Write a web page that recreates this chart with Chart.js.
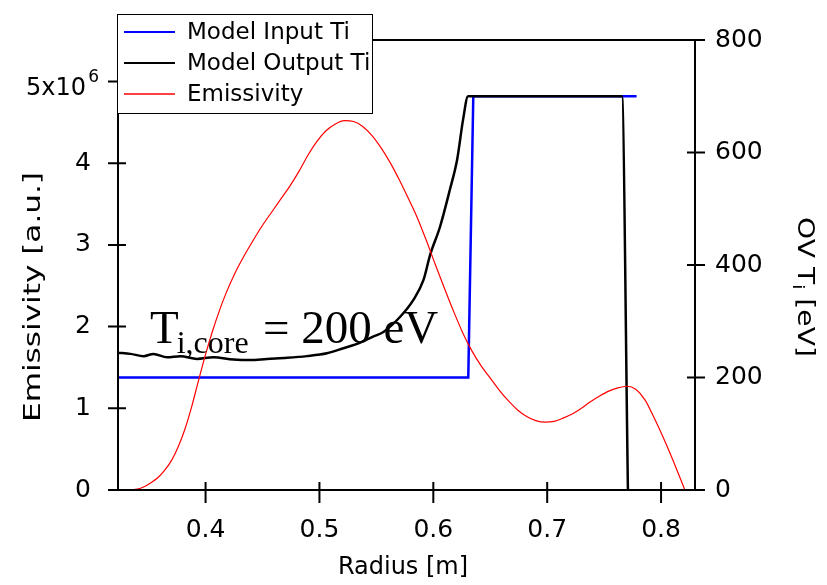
<!DOCTYPE html>
<html><head><meta charset="utf-8">
<script src="https://cdn.jsdelivr.net/npm/chart.js@4.4.1/dist/chart.umd.min.js"></script>
<style>html,body{margin:0;padding:0;background:#fff;}#wrap{width:827px;height:585px;}</style>
</head><body><div id="wrap"><canvas id="c" width="827" height="585"></canvas></div>
<script>
// ---- data ----
const xTicks = [0.4, 0.5, 0.6, 0.7, 0.8];
const leftTicks = [0, 1, 2, 3, 4, 5];          // emissivity in units of 1e6 a.u.
const rightTicks = [0, 200, 400, 600, 800];     // eV

const radiusIn = [0.3231, 0.6307, 0.6351, 0.7785];
const tiIn = [200, 200, 700, 700];

const radiusOut = [0.3231,0.3340,0.3457,0.3542,0.3662,0.3779,0.3925,0.4068,0.4244,0.4393,0.4539,0.4715,0.4890,0.5066,0.5211,0.5358,0.5475,0.5562,0.5709,0.5825,0.5913,0.5972,0.6059,0.6147,0.6209,0.6261,0.6305,0.7656,0.7709];
const tiOut = [244,242,238,242,236,238,233,236,232,231,233,235,238,243,252,262,273,281,308,338,373,418,468,535,587,658,700,700,0];

const radiusEm = [0.3231,0.333,0.340,0.346,0.352,0.358,0.364,0.370,0.376,0.382,0.388,0.394,0.400,0.406,0.412,0.418,0.426,0.434,0.442,0.450,0.458,0.466,0.474,0.482,0.490,0.498,0.506,0.514,0.522,0.530,0.538,0.546,0.554,0.562,0.570,0.578,0.586,0.594,0.602,0.610,0.618,0.626,0.634,0.642,0.650,0.658,0.666,0.674,0.682,0.690,0.698,0.706,0.714,0.722,0.730,0.738,0.746,0.754,0.762,0.770,0.778,0.786,0.794,0.802,0.810,0.8209];
const emissivity = [0,0,0.01,0.04,0.09,0.15,0.24,0.36,0.53,0.75,1.03,1.35,1.66,1.94,2.19,2.41,2.66,2.87,3.06,3.24,3.40,3.56,3.72,3.90,4.10,4.27,4.40,4.48,4.52,4.51,4.45,4.34,4.19,4.01,3.80,3.57,3.33,3.05,2.75,2.46,2.18,1.92,1.70,1.52,1.37,1.22,1.09,0.98,0.90,0.85,0.83,0.84,0.88,0.93,1.00,1.08,1.15,1.21,1.25,1.27,1.23,1.10,0.88,0.64,0.38,0];

const seriesLabels = ['Model Input Ti', 'Model Output Ti', 'Emissivity'];
const seriesColors = ['#0000ff', '#000000', '#ff0000'];

const pts = (xs, ys) => xs.map((x, i) => ({x, y: ys[i]}));

const TICK_FONT = {family: 'DejaVu Sans', size: 25};

function drawStretched(ctx, text, cx, cy, angle, length, font) {
  ctx.save();
  ctx.font = font;
  const w = ctx.measureText(text).width;
  ctx.translate(cx, cy);
  ctx.rotate(angle);
  ctx.scale(length / w, 1);
  ctx.textAlign = 'center';
  ctx.textBaseline = 'middle';
  ctx.fillText(text, 0, 0);
  ctx.restore();
}

const framePlugin = {
  id: 'frame',
  afterDraw(chart) {
    const {ctx, chartArea: a, scales} = chart;
    ctx.save();
    // frame & ticks
    ctx.strokeStyle = '#000';
    ctx.lineWidth = 2;
    ctx.beginPath();
    ctx.moveTo(a.left, a.top); ctx.lineTo(a.left, a.bottom);
    ctx.moveTo(a.left - 10, a.bottom); ctx.lineTo(a.right + 10, a.bottom);
    ctx.moveTo(a.right, a.top); ctx.lineTo(a.right, a.bottom);
    ctx.moveTo(a.left, a.top); ctx.lineTo(a.right + 10, a.top);
    xTicks.forEach(v => { const p = scales.x.getPixelForValue(v); ctx.moveTo(p, a.bottom - 8); ctx.lineTo(p, a.bottom + 13); });
    leftTicks.forEach(v => { const p = scales.y.getPixelForValue(v); ctx.moveTo(a.left - 10, p); ctx.lineTo(a.left + 8, p); });
    rightTicks.forEach(v => { const p = scales.y2.getPixelForValue(v); ctx.moveTo(a.right - 8, p); ctx.lineTo(a.right + 10, p); });
    ctx.stroke();

    // 5x10^6 tick label with superscript
    ctx.fillStyle = '#000';
    ctx.textBaseline = 'alphabetic';
    ctx.textAlign = 'right';
    const p5 = scales.y.getPixelForValue(5);
    ctx.font = '17px "DejaVu Sans"';
    ctx.fillText('6', 99, p5);
    ctx.font = '24px "DejaVu Sans"';
    ctx.fillText('5x10', 86, p5 + 13);

    // annotation T_{i,core} = 200 eV
    ctx.textAlign = 'left';
    ctx.font = '47px "Liberation Serif"';
    ctx.fillText('T', 150, 343);
    const tw = ctx.measureText('T').width;
    ctx.font = '32px "Liberation Serif"';
    ctx.fillText('i,core', 150 + tw - 2, 353);
    ctx.font = '47px "Liberation Serif"';
    ctx.fillText('= 200 eV', 263, 343);

    // legend
    ctx.fillStyle = '#fff';
    ctx.fillRect(117, 14, 255, 99);
    ctx.lineWidth = 1;
    ctx.strokeStyle = '#000';
    ctx.strokeRect(117.5, 14.5, 255, 99);
    const rows = [32, 63, 94];
    chart.data.datasets.forEach((ds, i) => {
      ctx.strokeStyle = ds.borderColor;
      ctx.lineWidth = i === 2 ? 1.5 : 2;
      ctx.beginPath(); ctx.moveTo(124, rows[i]); ctx.lineTo(175, rows[i]); ctx.stroke();
      ctx.fillStyle = '#000';
      ctx.font = '23px "DejaVu Sans"';
      ctx.textBaseline = 'middle';
      ctx.fillText(ds.label, 187, rows[i] + 1);
    });

    // axis titles
    ctx.fillStyle = '#000';
    ctx.textBaseline = 'middle';
    ctx.textAlign = 'center';
    ctx.font = '24px "DejaVu Sans"';
    ctx.fillText('Radius [m]', 403, 568);
    drawStretched(ctx, 'Emissivity [a.u.]', 34, 297, -Math.PI / 2, 250, '23px "DejaVu Sans"');

    // right title: OV T_i [eV] (rotated clockwise)
    ctx.save();
    ctx.translate(804, 287);
    ctx.rotate(Math.PI / 2);
    ctx.textAlign = 'left';
    ctx.textBaseline = 'middle';
    const p1 = 'OV T', p2 = 'i', p3 = ' [eV]';
    ctx.font = '23px "DejaVu Sans"';
    const w1 = ctx.measureText(p1).width, w3 = ctx.measureText(p3).width;
    ctx.font = '15px "DejaVu Sans"';
    const w2 = ctx.measureText(p2).width;
    const tot = w1 + w2 + w3;
    ctx.scale(140 / tot, 1);
    const x0 = -tot / 2;
    ctx.font = '23px "DejaVu Sans"';
    ctx.fillText(p1, x0, 0);
    ctx.font = '15px "DejaVu Sans"';
    ctx.fillText(p2, x0 + w1, 7);
    ctx.font = '23px "DejaVu Sans"';
    ctx.fillText(p3, x0 + w1 + w2, 0);
    ctx.restore();
    ctx.restore();
  }
};

new Chart(document.getElementById('c'), {
  type: 'line',
  data: {
    datasets: [
      {label: seriesLabels[0], data: pts(radiusIn, tiIn), borderColor: seriesColors[0], borderWidth: 2.5, pointRadius: 0, tension: 0, yAxisID: 'y2', order: 2},
      {label: seriesLabels[1], data: pts(radiusOut, tiOut), borderColor: seriesColors[1], borderWidth: 2.5, pointRadius: 0, cubicInterpolationMode: 'monotone', yAxisID: 'y2', order: 1},
      {label: seriesLabels[2], data: pts(radiusEm, emissivity), borderColor: seriesColors[2], borderWidth: 1.2, pointRadius: 0, cubicInterpolationMode: 'monotone', yAxisID: 'y', order: 0}
    ]
  },
  options: {
    responsive: false,
    devicePixelRatio: 1,
    animation: false,
    layout: {padding: {top: 40, left: 0, right: 0, bottom: 0}},
    plugins: {legend: {display: false}, tooltip: {enabled: false}},
    scales: {
      x: {
        type: 'linear', position: 'bottom', min: 0.3231, max: 0.8298,
        afterFit: s => { s.height = 95; },
        afterBuildTicks: s => { s.ticks = xTicks.map(v => ({value: v})); },
        grid: {display: false}, border: {display: false},
        ticks: {font: TICK_FONT, color: '#000', padding: 17, maxRotation: 0, callback: v => v.toFixed(1)}
      },
      y: {
        type: 'linear', position: 'left', min: 0, max: 5.508,
        afterFit: s => { s.width = 118; },
        afterBuildTicks: s => { s.ticks = leftTicks.map(v => ({value: v})); },
        grid: {display: false}, border: {display: false},
        ticks: {font: TICK_FONT, color: '#000', padding: 19, callback: v => v === 5 ? '' : String(v)}
      },
      y2: {
        type: 'linear', position: 'right', min: 0, max: 800,
        afterFit: s => { s.width = 132; },
        afterBuildTicks: s => { s.ticks = rightTicks.map(v => ({value: v})); },
        grid: {display: false}, border: {display: false},
        ticks: {font: TICK_FONT, color: '#000', padding: 12, callback: v => String(v)}
      }
    }
  },
  plugins: [framePlugin]
});
</script>
</body></html>
